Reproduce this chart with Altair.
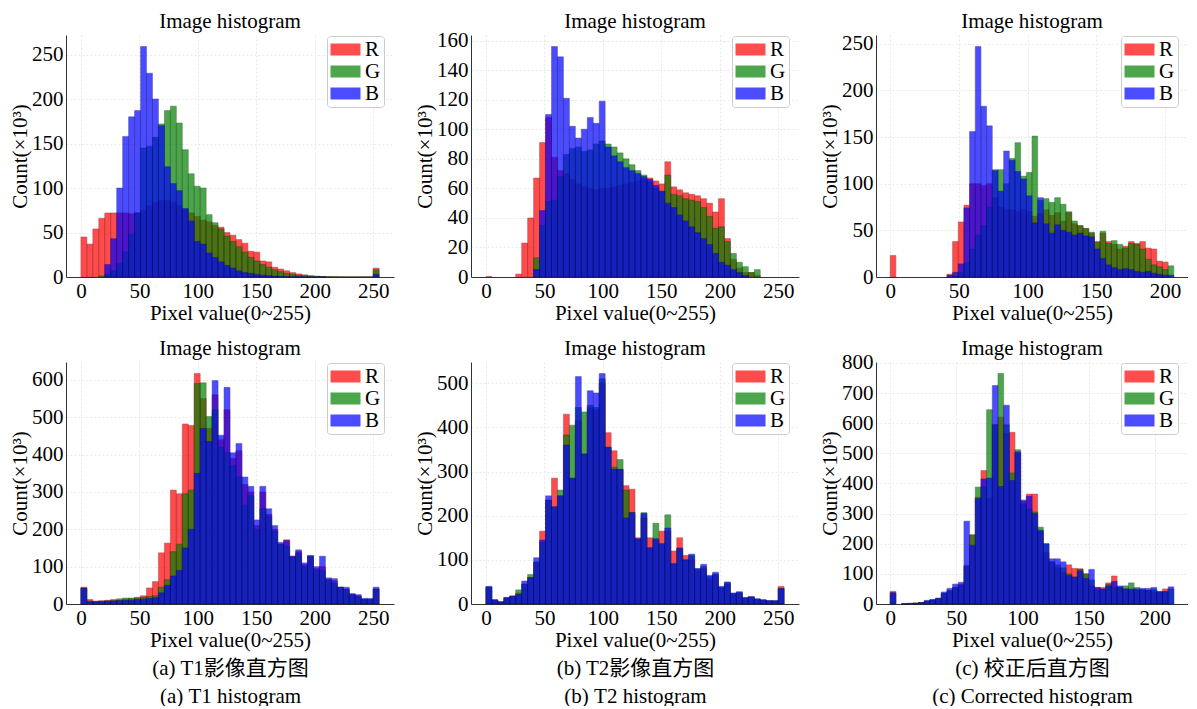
import altair as alt
import pandas as pd

SERIF = "Liberation Serif"
MIXED = "Liberation Serif, Noto Sans CJK SC"
FS = 21

CHANNELS = ["R", "G", "B"]
FILL = ["#ff0000", "#008000", "#0000ff"]
EDGE = ["#7a0000", "#003300", "#00007a"]

# ---------- (a) T1, top row ----------
T1_TOP_R = [45, 37, 54, 66, 72, 72, 72, 72, 71, 72, 75, 80, 84, 86, 86, 84, 80, 76, 72, 68,
            64, 62, 58, 56, 50, 47, 42, 38, 29, 28, 18, 17, 11, 9, 7, 5, 3.5, 2.5, 1.5, 1,
            0.6, 0.4, 0.3, 0.2, 0.1, 0.1, 0.1, 0.1, 0.2, 10]
T1_TOP_G = [0, 0, 0, 1, 3, 7, 15, 28, 48, 72, 145, 147, 157, 172, 187, 192, 173, 143, 116, 102,
            100, 70, 61, 54, 46, 40, 34, 28, 22, 18, 14, 11, 8, 6, 4, 3, 2, 1.5, 1, 0.7,
            0.5, 0.3, 0.2, 0.1, 0.1, 0.1, 0.1, 0.1, 0.1, 8]
T1_TOP_B = [0, 0, 0, 0, 14, 43, 100, 158, 180, 187, 259, 229, 200, 170, 124, 105, 97, 77, 63, 40,
            37, 27, 22, 17, 13, 10, 7, 5, 4, 3, 2, 1.5, 1, 0.7, 0.5, 0.3, 0.2, 0.1, 0.1, 0.1,
            0.1, 0, 0, 0, 0, 0, 0, 0, 0, 3]

# ---------- (b) T2, top row ----------
T2_TOP_R = [0.3, 0, 0, 0, 0, 2, 23, 40, 67, 91, 108, 81, 72, 70, 66, 63, 61, 60, 59, 60,
            60, 61, 62, 63, 64, 65, 66, 67, 65, 63, 78, 61, 59, 57, 56, 55, 53, 50, 44, 53,
            26, 12, 6, 3, 3, 1, 0, 0, 0, 0]
T2_TOP_G = [0, 0, 0, 0, 0, 0, 0, 0, 13, 35, 51, 52, 68, 83, 87, 88, 85, 86, 90, 92,
            90, 88, 84, 80, 76, 72, 69, 64, 60, 58, 69, 56, 55, 53, 52, 51, 47, 41, 33, 34,
            24, 16, 10, 7, 3, 5, 0, 0, 0, 0]
T2_TOP_B = [0, 0, 0, 0, 0, 0, 0, 0, 5, 45, 110, 156, 149, 121, 102, 94, 100, 108, 104, 119,
            88, 82, 78, 74, 72, 70, 68, 66, 62, 58, 50, 47, 42, 38, 34, 30, 26, 22, 16, 10,
            8, 5, 3, 1, 0, 0, 0, 0, 0, 0]

# ---------- (c) corrected, top row ----------
C_TOP_R = [23, 0, 0, 0, 0, 0, 0, 0, 0, 0, 3, 38, 59, 77, 100, 100, 98, 100, 85, 75,
           72, 72, 70, 72, 70, 65, 68, 72, 66, 69, 60, 69, 57, 55, 52, 47, 38, 47, 38, 35,
           30, 33, 38, 36, 38, 31, 30, 17, 16, 0]
C_TOP_G = [0, 0, 0, 0, 0, 0, 0, 0, 0, 0, 0, 1, 5, 15, 30, 45, 55, 75, 115, 115,
           100, 127, 144, 108, 112, 151, 82, 84, 80, 85, 78, 70, 60, 55, 52, 48, 37, 49, 36, 39,
           35, 31, 36, 35, 30, 19, 13, 11, 8, 12]
C_TOP_B = [0, 0, 0, 0, 0, 0, 0, 0, 0, 0, 2, 5, 14, 74, 156, 247, 183, 162, 114, 92,
           135, 125, 113, 105, 87, 58, 85, 57, 47, 56, 50, 48, 45, 47, 44, 43, 30, 20, 13, 10,
           8, 9, 8, 6, 5, 6, 4, 3, 2, 2]

# ---------- (a) T1, bottom row ----------
T1_BOT_R = [45, 12, 8, 9, 10, 12, 10, 12, 14, 18, 22, 43, 60, 137, 163, 305, 295, 482, 478, 617,
            550, 470, 560, 440, 520, 390, 410, 320, 300, 210, 300, 240, 200, 160, 172, 128, 140, 105, 128, 95,
            100, 65, 62, 45, 40, 25, 22, 13, 12, 40]
T1_BOT_G = [42, 8, 6, 7, 8, 9, 14, 16, 16, 16, 18, 20, 22, 45, 65, 140, 160, 295, 305, 590,
            592, 502, 520, 420, 405, 370, 340, 265, 290, 200, 255, 235, 195, 160, 155, 125, 135, 100, 128, 90,
            90, 65, 55, 45, 38, 25, 20, 12, 12, 40]
T1_BOT_B = [43, 6, 6, 7, 8, 8, 9, 10, 10, 12, 13, 15, 17, 30, 50, 75, 90, 150, 200, 350,
            470, 435, 598, 452, 580, 405, 430, 340, 315, 225, 315, 255, 210, 165, 170, 128, 145, 110, 130, 100,
            128, 70, 68, 45, 45, 28, 25, 15, 15, 45]

# ---------- (b) T2, bottom row ----------
T2_BOT_R = [38, 9, 5, 14, 18, 25, 45, 60, 95, 165, 235, 285, 245, 430, 285, 415, 340, 445, 440, 500,
            388, 347, 305, 268, 260, 150, 195, 150, 145, 165, 165, 120, 150, 110, 100, 75, 80, 55, 65, 35,
            45, 22, 25, 13, 15, 10, 8, 7, 6, 40]
T2_BOT_G = [38, 9, 5, 14, 18, 32, 45, 67, 95, 140, 235, 220, 258, 383, 405, 445, 435, 450, 445, 510,
            355, 310, 327, 258, 207, 145, 207, 125, 183, 135, 202, 90, 125, 100, 110, 80, 85, 62, 68, 38,
            48, 24, 26, 14, 16, 11, 9, 7, 7, 35]
T2_BOT_B = [40, 10, 5, 15, 18, 22, 52, 60, 105, 145, 245, 220, 245, 360, 285, 515, 340, 483, 478, 522,
            355, 305, 305, 195, 207, 148, 205, 128, 148, 137, 172, 92, 127, 100, 113, 80, 90, 65, 72, 40,
            50, 25, 28, 15, 17, 12, 10, 8, 8, 35]

# ---------- (c) corrected, bottom row ----------
C_BOT_R = [42, 0, 1, 2, 3, 5, 9, 13, 18, 35, 42, 55, 65, 125, 230, 355, 443, 350, 595, 620,
           565, 570, 500, 340, 365, 365, 240, 170, 140, 120, 105, 130, 118, 117, 100, 60, 55, 55, 70, 93,
           55, 50, 45, 45, 45, 45, 40, 40, 50, 0]
C_BOT_G = [35, 0, 1, 2, 3, 5, 10, 14, 18, 35, 45, 55, 60, 128, 228, 388, 390, 645, 595, 765,
           595, 435, 512, 330, 315, 305, 255, 200, 140, 130, 120, 100, 88, 115, 100, 80, 45, 48, 65, 55,
           55, 60, 70, 55, 48, 45, 48, 40, 40, 50]
C_BOT_B = [38, 0, 1, 2, 3, 5, 12, 15, 20, 40, 52, 66, 72, 275, 195, 350, 415, 418, 725, 390,
           660, 410, 505, 345, 358, 300, 245, 200, 150, 150, 140, 95, 90, 110, 85, 115, 55, 50, 60, 75,
           60, 50, 50, 50, 52, 52, 55, 42, 42, 57]

# value ranges (upper edge of the last bin) and tick labels
RANGE_FULL = 255
RANGE_C_TOP = 206.5
RANGE_C_BOT = 214.5
X_TICKS_FULL = [0, 50, 100, 150, 200, 250]
X_TICKS_C = [0, 50, 100, 150, 200]
Y_TICKS = {
    "t1_top": [0, 50, 100, 150, 200, 250],
    "t2_top": [0, 20, 40, 60, 80, 100, 120, 140, 160],
    "c_top": [0, 50, 100, 150, 200, 250],
    "t1_bot": [0, 100, 200, 300, 400, 500, 600],
    "t2_bot": [0, 100, 200, 300, 400, 500],
    "c_bot": [0, 100, 200, 300, 400, 500, 600, 700, 800],
}
X_TITLE = "Pixel value(0~255)"
Y_TITLE = "Count(×10³)"
CAPTIONS = [
    ["(a) T1影像直方图", "(a) T1 histogram"],
    ["(b) T2影像直方图", "(b) T2 histogram"],
    ["(c) 校正后直方图", "(c) Corrected histogram"],
]

H = 242
W_WIDE = 328
W_NARROW = 312
TITLE_OFFSET = 3
LEGEND_W = 67


def make_panel(R, G, B, vmax, xticks, yticks, xtitle, width):
    n = len(R)
    w = vmax / n
    rows = []
    for ch, vals in zip(CHANNELS, (R, G, B)):
        for i, v in enumerate(vals):
            if v > 0:
                rows.append({"ch": ch, "x0": i * w, "x1": (i + 1) * w, "count": v})
    df = pd.DataFrame(rows)
    ymax = max(max(R), max(G), max(B)) * 1.05
    # the top tick label may stick out above the plot; keep titles level anyway
    gap = (ymax - max(yticks)) / ymax * H
    overflow = max(0.0, FS / 2 - gap)
    return (
        alt.Chart(df, width=width, height=H,
                  title=alt.TitleParams("Image histogram", anchor="middle",
                                        offset=TITLE_OFFSET - overflow))
        .mark_rect(opacity=0.7, strokeWidth=0.5)
        .encode(
            x=alt.X("x0:Q",
                    scale=alt.Scale(domain=[-0.05 * vmax, 1.05 * vmax], nice=False, zero=False),
                    axis=alt.Axis(values=xticks, title=xtitle, labelFlush=False)),
            x2="x1:Q",
            y=alt.Y("count:Q", stack=None,
                    scale=alt.Scale(domain=[0, ymax], nice=False),
                    axis=alt.Axis(values=yticks, title=Y_TITLE)),
            y2=alt.datum(0),
            color=alt.Color("ch:N", scale=alt.Scale(domain=CHANNELS, range=FILL),
                            legend=alt.Legend(title=None, orient="none",
                                              legendX=width - LEGEND_W, legendY=1)),
            stroke=alt.Stroke("ch:N", scale=alt.Scale(domain=CHANNELS, range=EDGE), legend=None),
        )
    )


p1 = make_panel(T1_TOP_R, T1_TOP_G, T1_TOP_B, RANGE_FULL, X_TICKS_FULL, Y_TICKS["t1_top"], X_TITLE, W_WIDE)
p2 = make_panel(T2_TOP_R, T2_TOP_G, T2_TOP_B, RANGE_FULL, X_TICKS_FULL, Y_TICKS["t2_top"], X_TITLE, W_WIDE)
p3 = make_panel(C_TOP_R, C_TOP_G, C_TOP_B, RANGE_C_TOP, X_TICKS_C, Y_TICKS["c_top"], X_TITLE, W_NARROW)
p4 = make_panel(T1_BOT_R, T1_BOT_G, T1_BOT_B, RANGE_FULL, X_TICKS_FULL, Y_TICKS["t1_bot"],
                [X_TITLE] + CAPTIONS[0], W_WIDE)
p5 = make_panel(T2_BOT_R, T2_BOT_G, T2_BOT_B, RANGE_FULL, X_TICKS_FULL, Y_TICKS["t2_bot"],
                [X_TITLE] + CAPTIONS[1], W_WIDE)
p6 = make_panel(C_BOT_R, C_BOT_G, C_BOT_B, RANGE_C_BOT, X_TICKS_C, Y_TICKS["c_bot"],
                [X_TITLE] + CAPTIONS[2], W_NARROW)


def row(*charts):
    return (alt.hconcat(*charts, spacing=20)
            .resolve_scale(color="independent", stroke="independent")
            .resolve_legend(color="independent", stroke="independent"))


chart = (
    alt.vconcat(row(p1, p2, p3), row(p4, p5, p6), spacing=14)
    .resolve_scale(color="independent", stroke="independent")
    .resolve_legend(color="independent", stroke="independent")
    .properties(padding={"left": 1, "top": 2, "right": 0, "bottom": 0})
    .configure_view(stroke=None)
    .configure_axis(
        labelFont=SERIF, labelFontSize=FS, labelColor="black",
        titleFont=MIXED, titleFontSize=FS, titleFontWeight="normal", titleColor="black",
        domainColor="#333333", domainWidth=1, ticks=False, labelPadding=3,
        gridColor="#e2e2e2", gridDash=[2, 2], gridWidth=0.8,
    )
    .configure_axisY(titlePadding=1)
    .configure_axisX(titlePadding=1, titleLineHeight=28)
    .configure_legend(
        labelFont=SERIF, labelFontSize=FS, labelColor="black",
        symbolType="M-1,-0.6H2V0.6H-1Z", symbolSize=400, symbolStrokeWidth=0,
        padding=3, rowPadding=0, labelOffset=14,
        strokeColor="#cccccc", fillColor="white", cornerRadius=3,
    )
    .configure_title(font=SERIF, fontSize=FS, fontWeight="normal", color="black")
)

chart.save("out.html", embed_options={"renderer": "svg", "actions": False})
